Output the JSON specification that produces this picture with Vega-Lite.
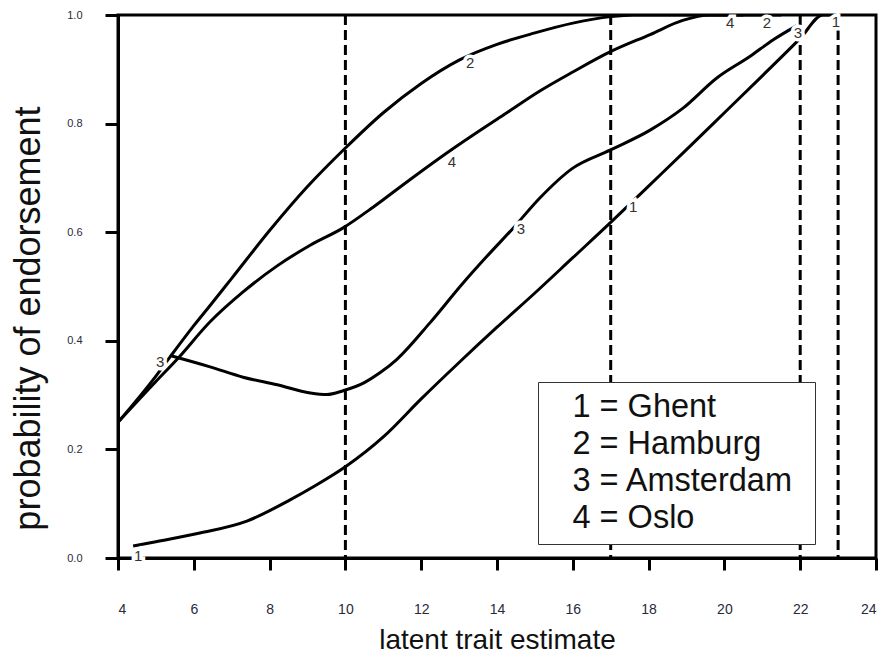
{
  "$schema": "https://vega.github.io/schema/vega-lite/v6.json",
  "width": 758,
  "height": 543,
  "autosize": {"type": "none"},
  "padding": {"left": 118, "top": 15, "right": 6, "bottom": 102},
  "background": "white",
  "config": {
    "font": "Liberation Sans",
    "view": {"stroke": "black", "strokeWidth": 3},
    "axis": {
      "grid": false,
      "domainColor": "black",
      "domainWidth": 3,
      "tickColor": "black",
      "tickWidth": 3,
      "labelFont": "Liberation Sans",
      "titleFont": "Liberation Sans",
      "titleFontWeight": "normal",
      "titleColor": "#111",
      "labelColor": "#2a2a3a"
    }
  },
  "datasets": {
    "curves": [
      {"city": "Ghent", "x": 4.4, "y": 0.022},
      {"city": "Ghent", "x": 5.0, "y": 0.03},
      {"city": "Ghent", "x": 6.16, "y": 0.046},
      {"city": "Ghent", "x": 7.4, "y": 0.068},
      {"city": "Ghent", "x": 8.54, "y": 0.107},
      {"city": "Ghent", "x": 9.2, "y": 0.133},
      {"city": "Ghent", "x": 10.0, "y": 0.168},
      {"city": "Ghent", "x": 11.0, "y": 0.223},
      {"city": "Ghent", "x": 12.0, "y": 0.293},
      {"city": "Ghent", "x": 13.0, "y": 0.36},
      {"city": "Ghent", "x": 14.0, "y": 0.425},
      {"city": "Ghent", "x": 15.0, "y": 0.488},
      {"city": "Ghent", "x": 16.0, "y": 0.553},
      {"city": "Ghent", "x": 17.0, "y": 0.618},
      {"city": "Ghent", "x": 18.0, "y": 0.685},
      {"city": "Ghent", "x": 19.0, "y": 0.752},
      {"city": "Ghent", "x": 20.0, "y": 0.82},
      {"city": "Ghent", "x": 21.0, "y": 0.888},
      {"city": "Ghent", "x": 22.0, "y": 0.957},
      {"city": "Ghent", "x": 22.6, "y": 1.0},
      {"city": "Ghent", "x": 23.0, "y": 1.0},
      {"city": "Hamburg", "x": 4.0, "y": 0.25},
      {"city": "Hamburg", "x": 5.0, "y": 0.335},
      {"city": "Hamburg", "x": 5.37, "y": 0.37},
      {"city": "Hamburg", "x": 6.0, "y": 0.428},
      {"city": "Hamburg", "x": 6.43, "y": 0.465},
      {"city": "Hamburg", "x": 7.0, "y": 0.515},
      {"city": "Hamburg", "x": 8.0, "y": 0.603},
      {"city": "Hamburg", "x": 9.0, "y": 0.684},
      {"city": "Hamburg", "x": 10.0, "y": 0.755},
      {"city": "Hamburg", "x": 11.0, "y": 0.82},
      {"city": "Hamburg", "x": 12.0, "y": 0.874},
      {"city": "Hamburg", "x": 13.0, "y": 0.917},
      {"city": "Hamburg", "x": 14.0, "y": 0.946},
      {"city": "Hamburg", "x": 15.0, "y": 0.967},
      {"city": "Hamburg", "x": 16.0, "y": 0.985},
      {"city": "Hamburg", "x": 17.0, "y": 0.997},
      {"city": "Hamburg", "x": 17.6, "y": 1.0},
      {"city": "Hamburg", "x": 21.5, "y": 1.0},
      {"city": "Amsterdam", "x": 5.42, "y": 0.372},
      {"city": "Amsterdam", "x": 6.43, "y": 0.352},
      {"city": "Amsterdam", "x": 7.3, "y": 0.333},
      {"city": "Amsterdam", "x": 8.2, "y": 0.319},
      {"city": "Amsterdam", "x": 9.07, "y": 0.304},
      {"city": "Amsterdam", "x": 9.5, "y": 0.301},
      {"city": "Amsterdam", "x": 9.94, "y": 0.308},
      {"city": "Amsterdam", "x": 10.5, "y": 0.323},
      {"city": "Amsterdam", "x": 10.91, "y": 0.341},
      {"city": "Amsterdam", "x": 11.36, "y": 0.366},
      {"city": "Amsterdam", "x": 12.23, "y": 0.433},
      {"city": "Amsterdam", "x": 13.1, "y": 0.506},
      {"city": "Amsterdam", "x": 13.74, "y": 0.556},
      {"city": "Amsterdam", "x": 14.42, "y": 0.607},
      {"city": "Amsterdam", "x": 15.13, "y": 0.663},
      {"city": "Amsterdam", "x": 16.0, "y": 0.718},
      {"city": "Amsterdam", "x": 16.98, "y": 0.751},
      {"city": "Amsterdam", "x": 18.04, "y": 0.788},
      {"city": "Amsterdam", "x": 18.9, "y": 0.828},
      {"city": "Amsterdam", "x": 19.8, "y": 0.884},
      {"city": "Amsterdam", "x": 20.68, "y": 0.924},
      {"city": "Amsterdam", "x": 21.28, "y": 0.954},
      {"city": "Amsterdam", "x": 21.9, "y": 0.98},
      {"city": "Oslo", "x": 4.0, "y": 0.25},
      {"city": "Oslo", "x": 5.0, "y": 0.325},
      {"city": "Oslo", "x": 5.56, "y": 0.366},
      {"city": "Oslo", "x": 6.43, "y": 0.435},
      {"city": "Oslo", "x": 7.3, "y": 0.49},
      {"city": "Oslo", "x": 8.2, "y": 0.538},
      {"city": "Oslo", "x": 9.07, "y": 0.576},
      {"city": "Oslo", "x": 9.94, "y": 0.608},
      {"city": "Oslo", "x": 10.73, "y": 0.646},
      {"city": "Oslo", "x": 11.63, "y": 0.693},
      {"city": "Oslo", "x": 12.76, "y": 0.75},
      {"city": "Oslo", "x": 13.37, "y": 0.779},
      {"city": "Oslo", "x": 14.26, "y": 0.82},
      {"city": "Oslo", "x": 15.13, "y": 0.86},
      {"city": "Oslo", "x": 16.0, "y": 0.895},
      {"city": "Oslo", "x": 16.98, "y": 0.932},
      {"city": "Oslo", "x": 18.04, "y": 0.964},
      {"city": "Oslo", "x": 18.9, "y": 0.99},
      {"city": "Oslo", "x": 19.6, "y": 1.0},
      {"city": "Oslo", "x": 20.5, "y": 1.0}
    ],
    "cutoffs": [
      {"x": 10},
      {"x": 17},
      {"x": 22},
      {"x": 23}
    ],
    "labels": [
      {"id": "1", "x": 4.53, "y": 0.004},
      {"id": "1", "x": 17.59, "y": 0.646},
      {"id": "1", "x": 22.94, "y": 0.987},
      {"id": "2", "x": 13.29, "y": 0.912},
      {"id": "2", "x": 21.12, "y": 0.985},
      {"id": "3", "x": 5.11, "y": 0.361},
      {"id": "3", "x": 14.63, "y": 0.606},
      {"id": "3", "x": 21.94, "y": 0.967},
      {"id": "4", "x": 12.81, "y": 0.729},
      {"id": "4", "x": 20.15, "y": 0.985}
    ]
  },
  "layer": [
    {
      "data": {"name": "cutoffs"},
      "mark": {"type": "rule", "color": "black", "strokeWidth": 3, "strokeDash": [10, 5]},
      "encoding": {
        "x": {"field": "x", "type": "quantitative", "scale": {"domain": [4, 24], "nice": false, "zero": false}}
      }
    },
    {
      "data": {"name": "curves"},
      "mark": {"type": "line", "strokeWidth": 3, "clip": true, "interpolate": "monotone"},
      "encoding": {
        "x": {
          "field": "x", "type": "quantitative",
          "scale": {"domain": [4, 24], "nice": false, "zero": false},
          "axis": {
            "values": [4, 6, 8, 10, 12, 14, 16, 18, 20, 22, 24],
            "format": "d",
            "tickSize": 12,
            "labelPadding": 32,
            "labelFontSize": 14,
            "title": "latent trait estimate",
            "titleFontSize": 28,
            "titlePadding": 10
          }
        },
        "y": {
          "field": "y", "type": "quantitative",
          "scale": {"domain": [0, 1], "nice": false},
          "axis": {
            "values": [0, 0.2, 0.4, 0.6, 0.8, 1.0],
            "format": ".1f",
            "tickSize": 13,
            "labelPadding": 23,
            "labelFontSize": 11,
            "title": "probability of endorsement",
            "titleFontSize": 36,
            "titleX": -90,
            "titleY": 303,
            "titleAngle": -90,
            "titleAlign": "center",
            "titleBaseline": "middle"
          }
        },
        "color": {
          "field": "city", "type": "nominal",
          "scale": {"domain": ["Ghent", "Hamburg", "Amsterdam", "Oslo"], "range": ["black", "black", "black", "black"]},
          "legend": {
            "orient": "none",
            "legendX": 420,
            "legendY": 367,
            "title": ".",
            "titleOrient": "right",
            "titleOpacity": 0,
            "titleFontSize": 10,
            "titlePadding": 9,
            "labelExpr": "(indexof(['Ghent','Hamburg','Amsterdam','Oslo'], datum.label) + 1) + ' = ' + datum.label",
            "labelFont": "Liberation Sans",
            "labelFontSize": 32.5,
            "labelColor": "#111",
            "labelLimit": 400,
            "symbolType": "circle",
            "symbolOpacity": 0,
            "symbolStrokeWidth": 0,
            "symbolSize": 4,
            "labelOffset": -7,
            "rowPadding": 4,
            "padding": 9,
            "strokeColor": "#333",
            "fillColor": "white"
          }
        },
        "order": {"field": "x", "type": "quantitative"}
      }
    },
    {
      "data": {"name": "labels"},
      "mark": {"type": "text", "fontSize": 15, "font": "Liberation Sans", "stroke": "white", "strokeWidth": 7, "fill": "white", "align": "center", "baseline": "middle"},
      "encoding": {
        "x": {"field": "x", "type": "quantitative"},
        "y": {"field": "y", "type": "quantitative"},
        "text": {"field": "id"}
      }
    },
    {
      "data": {"name": "labels"},
      "mark": {"type": "text", "fontSize": 15, "font": "Liberation Sans", "fill": "#333", "align": "center", "baseline": "middle"},
      "encoding": {
        "x": {"field": "x", "type": "quantitative"},
        "y": {"field": "y", "type": "quantitative"},
        "text": {"field": "id"}
      }
    }
  ]
}
